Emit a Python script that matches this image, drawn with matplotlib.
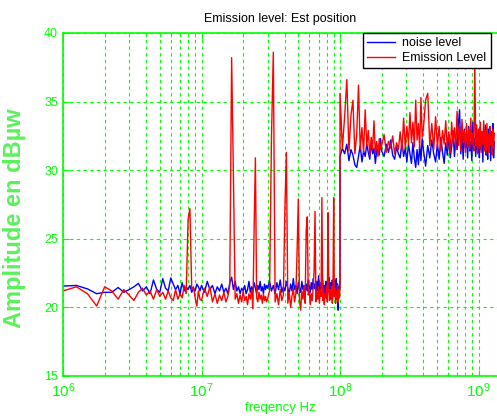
import numpy as np
import matplotlib
matplotlib.use("Agg")
import matplotlib.pyplot as plt
from matplotlib.ticker import LogLocator, FixedLocator, NullFormatter

plt.rcParams['font.family'] = ['Liberation Sans', 'DejaVu Sans']
plt.rcParams['mathtext.fontset'] = 'custom'
plt.rcParams['mathtext.rm'] = 'Liberation Sans'
plt.rcParams['mathtext.it'] = 'Liberation Sans'

# frequency grids of the sweeps (MHz)
f_a = np.arange(1, 10, 0.25)       # 1 .. 9.75
f_b = np.arange(10, 30, 0.5)       # 10 .. 29.5
f_c = np.arange(30, 101, 1.0)      # 30 .. 100
f_d = np.arange(100, 200, 4.0)     # 100 .. 196
f_e = np.arange(200, 400, 8.0)     # 200 .. 392
f_f = np.arange(400, 1301, 15.0)   # 400 .. 1300

# noise level (dBuW)
noise_a = [21.55, 21.6, 21.35, 21.0, 21.1, 21.1, 21.45, 21.1, 21.3, 21.5, 21.75, 21.2,
           21.5, 21.0, 22.0, 21.3, 21.1, 22.1, 21.4, 21.2, 22.15, 21.7, 21.3, 21.6,
           21.0, 21.8, 21.2, 21.5, 21.3, 21.6, 21.1, 21.4, 21.2, 21.7, 21.5, 21.2]
noise_b = [21.6, 21.1, 21.9, 21.3, 21.6, 21.0, 21.5, 21.2, 21.7, 21.1, 21.4, 21.0,
           21.8, 22.2, 21.3, 21.9, 21.2, 21.5, 21.0, 21.4, 21.2, 21.6, 21.0, 21.3,
           21.9, 21.1, 21.5, 21.2, 21.8, 21.4, 21.0, 21.6, 21.3, 21.9, 21.2, 21.5,
           21.0, 21.7, 21.3, 21.6]
noise_c = [21.4, 21.9, 21.2, 21.6, 21.0, 21.8, 21.3, 22.0, 21.1, 21.5, 21.2, 21.9,
           21.4, 21.0, 21.7, 21.2, 22.1, 21.3, 21.6, 21.0, 21.8, 21.4, 21.1, 21.9,
           21.3, 21.6, 21.0, 21.7, 21.2, 22.0, 21.5, 21.1, 21.8, 21.3, 22.1, 21.4,
           21.7, 21.0, 21.9, 21.2, 22.3, 21.5, 21.1, 21.8, 21.4, 22.0, 21.2, 21.6,
           21.0, 21.9, 21.3, 21.7, 21.2, 22.2, 21.5, 21.1, 21.8, 21.4, 22.0, 21.2,
           21.6, 21.1, 21.9, 21.4, 22.1, 21.0, 21.7, 19.8, 21.5, 21.2, 21.9]
noise_d = [31.0, 31.6, 31.2, 31.9, 30.7, 31.5, 31.1, 30.4, 30.2, 31.0, 31.8, 30.6,
           31.4, 31.0, 31.9, 31.3, 30.8, 32.0, 31.2, 31.6, 30.5, 31.4, 31.8, 31.1, 32.3]
noise_e = [31.4, 31.0, 31.9, 31.3, 32.2, 31.1, 30.8, 31.7, 31.2, 30.9, 32.1, 31.0,
           31.6, 30.6, 31.9, 31.2, 30.5, 32.0, 30.9, 30.2, 31.5, 30.4, 31.8, 30.7, 32.3]
noise_f = [31.5, 30.3, 31.8, 30.9, 32.2, 31.2, 30.6, 31.9, 30.8, 32.4, 31.3, 30.5,
           32.0, 31.1, 32.6, 30.9, 31.7, 32.9, 31.0, 32.3, 31.5, 33.3, 34.4, 31.2,
           32.7, 30.8, 33.0, 31.6, 32.4, 30.9, 33.2, 31.4, 32.1, 30.7, 33.5, 31.8,
           32.3, 31.0, 32.8, 31.3, 32.0, 30.9, 33.1, 31.5, 32.5, 30.6, 32.9, 31.7,
           33.3, 31.1, 32.2, 30.8, 33.0, 31.4, 32.6, 30.7, 32.8, 31.2, 33.4, 30.9, 32.1]

# emission level (dBuW)
emis_a = [21.2, 21.5, 21.0, 20.1, 21.5, 21.2, 20.6, 21.3, 20.9, 20.5, 21.1, 21.4,
          20.9, 21.2, 20.6, 21.3, 20.8, 21.1, 20.6, 21.2, 20.7, 20.5, 21.3, 20.6,
          21.0, 20.7, 21.6, 21.0, 26.4, 27.2, 21.3, 21.5, 20.7, 20.1, 21.2, 20.6]
emis_b = [20.5, 21.4, 20.8, 21.5, 20.4, 21.0, 20.3, 20.9, 20.5, 21.1, 20.4, 20.8,
          21.6, 38.2, 29.6, 20.6, 21.0, 20.3, 20.9, 20.4, 21.2, 20.5, 20.8, 20.2,
          21.0, 20.6, 21.3, 19.9, 25.9, 30.9, 20.7, 20.4, 21.1, 20.6, 20.9, 20.3,
          21.0, 20.5, 20.8, 20.4]
emis_c = [20.6, 21.2, 32.4, 38.6, 20.4, 21.0, 20.2, 21.3, 20.5, 20.9, 27.1, 31.3,
          20.3, 21.1, 20.0, 20.8, 21.4, 20.4, 21.0, 24.1, 27.9, 20.5, 19.8, 21.2,
          20.6, 21.5, 20.3, 25.6, 26.6, 20.9, 21.3, 20.2, 21.0, 20.5, 21.4, 22.6,
          27.0, 20.4, 21.1, 20.6, 21.5, 20.3, 21.2, 20.8, 28.0, 20.5, 21.4, 20.2,
          21.0, 20.7, 21.6, 20.4, 26.9, 21.2, 20.5, 21.3, 20.6, 21.5, 20.3, 21.0,
          28.0, 20.8, 21.4, 20.3, 21.2, 20.6, 21.6, 20.4, 21.3, 20.7, 21.5]
emis_d = [35.6, 31.6, 33.9, 36.6, 31.4, 34.0, 35.1, 31.2, 32.6, 36.2, 31.5, 33.1,
          31.3, 34.4, 31.8, 32.9, 31.1, 32.4, 31.6, 33.6, 31.2, 32.1, 31.0, 32.3, 31.5]
emis_e = [31.8, 32.6, 31.3, 32.1, 31.6, 32.5, 31.2, 32.0, 31.5, 32.8, 31.4, 33.8,
          31.6, 33.2, 31.9, 34.2, 32.0, 33.5, 31.7, 35.1, 32.2, 33.4, 31.6, 35.3, 32.4]
emis_f = [33.0, 35.1, 35.6, 31.8, 33.4, 31.5, 33.9, 31.7, 33.2, 31.4, 32.9, 31.9,
          33.6, 31.6, 32.8, 31.3, 33.5, 32.0, 33.1, 31.5, 34.3, 31.8, 33.2, 31.4,
          33.7, 32.0, 32.9, 31.3, 33.4, 31.7, 33.0, 31.5, 33.8, 31.9, 32.7, 31.4,
          37.8, 31.8, 33.3, 31.2, 33.0, 31.6, 33.5, 31.3, 32.8, 31.9, 33.6, 31.4,
          32.9, 31.2, 33.4, 31.7, 32.6, 31.3, 33.2, 31.8, 32.5, 31.1, 33.0, 31.6, 32.7]

freq = np.concatenate([f_a, f_b, f_c, f_d, f_e, f_f]) * 1e6
noise = np.concatenate([noise_a, noise_b, noise_c, noise_d, noise_e, noise_f])
emis = np.concatenate([emis_a, emis_b, emis_c, emis_d, emis_e, emis_f])

green = '#00ff00'

fig = plt.figure(figsize=(4.97, 4.16), dpi=100)
ax = fig.add_axes([63/497, 40/416, 434/497, 343/416])

ax.plot(freq, noise, color='#0000ff', lw=1.0, label='noise level')
ax.plot(freq, emis, color='#ff0000', lw=1.0, label='Emission Level')

ax.set_xscale('log')
ax.set_xlim(1e6, 1.36e9)
ax.set_ylim(15, 40)
ax.set_yticks([15, 20, 25, 30, 35, 40])
ax.xaxis.set_major_locator(FixedLocator([1e6, 1e7, 1e8, 1e9]))
ax.set_xticklabels(['$10^{6}$', '$10^{7}$', '$10^{8}$', '$10^{9}$'])
ax.xaxis.set_minor_locator(LogLocator(base=10, subs=np.arange(2, 10), numticks=20))
ax.xaxis.set_minor_formatter(NullFormatter())

ax.grid(True, which='both', axis='x', color=green, ls=(0, (3, 3)), lw=0.8)
ax.grid(True, which='major', axis='y', color=green, ls=(0, (3, 3)), lw=0.8)

for s in ['left', 'bottom', 'top']:
    ax.spines[s].set_color(green)
    ax.spines[s].set_linewidth(1.2)
ax.spines['right'].set_visible(False)
ax.tick_params(which='both', direction='in', colors=green, top=True)
ax.tick_params(axis='x', which='major', labelsize=11, pad=4, length=4)
ax.tick_params(axis='x', which='minor', length=3)
ax.tick_params(axis='y', labelsize=9, length=4)

ax.set_title('Emission level: Est position', fontsize=9, color='black', pad=8)
ax.set_xlabel('freqency Hz', fontsize=9.5, color=green, labelpad=1)
fig.text(15/497, 1 - 218/416, 'Amplitude en dB\u00b5w', rotation=90, fontsize=17,
         fontweight='bold', color='#5cf05c', ha='center', va='center',
         family=['Liberation Sans', 'DejaVu Sans'])

leg = ax.legend(loc='upper left', bbox_to_anchor=(363/497, 1 - 33/416),
                bbox_transform=fig.transFigure, fontsize=9, frameon=True,
                fancybox=False, framealpha=1, edgecolor='black',
                handlelength=2.2, handletextpad=0.6, borderpad=0.35,
                labelspacing=0.2, borderaxespad=0)
leg.get_frame().set_linewidth(1.0)

fig.savefig('out.png', dpi=100, facecolor='white')
